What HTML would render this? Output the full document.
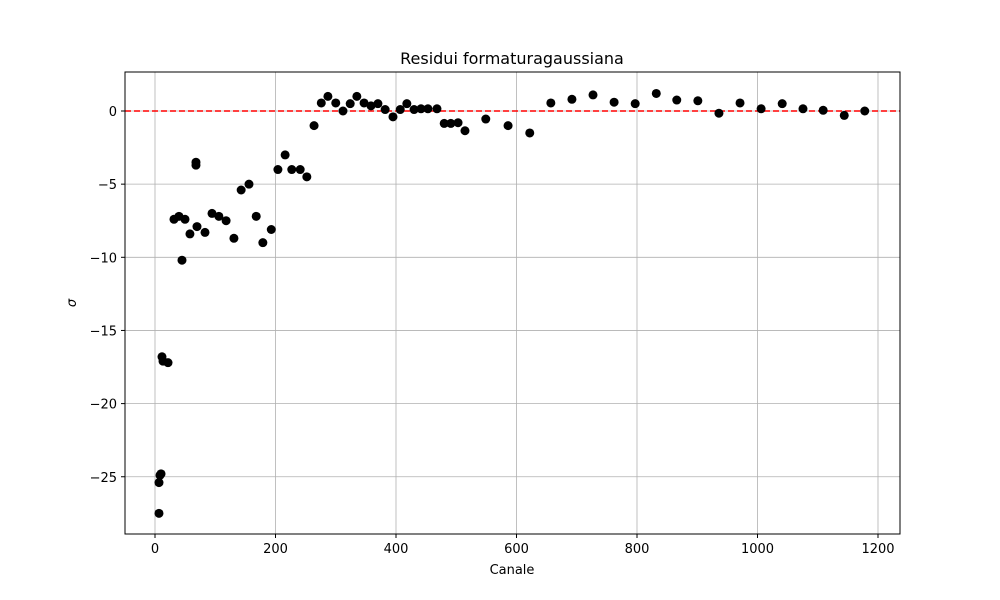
<!DOCTYPE html>
<html><head><meta charset="utf-8"><style>
body{margin:0;background:#fff}
svg{display:block;font-family:"DejaVu Sans","Liberation Sans",sans-serif}
</style></head><body>
<svg id="chart" width="1000" height="600">
<rect width="1000" height="600" fill="#fff"/>
<g id="grid"></g>
<g id="refline"></g>
<g id="points"></g>
<rect x="125" y="72" width="775" height="462" fill="none" stroke="#000" stroke-width="1"/>
<g id="xticks"></g>
<g id="yticks"></g>
<text x="512" y="64" text-anchor="middle" font-size="16">Residui formaturagaussiana</text>
<text x="512" y="574" text-anchor="middle" font-size="13">Canale</text>
<text x="0" y="0" transform="translate(76,303) rotate(-90)" text-anchor="middle" font-size="13" font-style="italic">σ</text>
</svg>
<script>
const channels=[6.6,6.6,8.3,10,11.6,13.3,21.6,31.5,39.8,44.8,49.8,58,68,68,69.7,83,94.6,106,118,131,143,156,168,179,193,204,216,227,241,252,264,276,287,300,312,324,335,347,358.5,370,382,395,407,418,430,441.5,453,468,480,491,503,514.5,549,586,622,657,692,727,762,797,832,866,901,936,971,1006,1041,1075.5,1109,1144,1178];
const sigma=[-27.5,-25.4,-24.9,-24.8,-16.8,-17.1,-17.2,-7.4,-7.2,-10.2,-7.4,-8.4,-3.7,-3.5,-7.9,-8.3,-7.0,-7.2,-7.5,-8.7,-5.4,-5.0,-7.2,-9.0,-8.1,-4.0,-3.0,-4.0,-4.0,-4.5,-1.0,0.55,1.0,0.55,0.0,0.5,1.0,0.55,0.35,0.5,0.1,-0.4,0.1,0.5,0.1,0.15,0.15,0.15,-0.85,-0.85,-0.8,-1.35,-0.55,-1.0,-1.5,0.55,0.8,1.1,0.6,0.5,1.2,0.75,0.7,-0.15,0.55,0.15,0.5,0.15,0.05,-0.3,0.0];
const xTicks=[0,200,400,600,800,1000,1200];
const yTicks=[0,-5,-10,-15,-20,-25];
const NS='http://www.w3.org/2000/svg';
const X=v=>155+v*0.6025;
const Y=v=>111-v*14.63;
function mk(tag,attrs,parent,txt){const e=document.createElementNS(NS,tag);for(const k in attrs)e.setAttribute(k,attrs[k]);if(txt!==undefined)e.textContent=txt;document.getElementById(parent).appendChild(e);return e;}
xTicks.forEach(t=>{
  const g=mk('line',{x1:X(t),x2:X(t),y1:72,y2:534,stroke:'#b0b0b0','stroke-width':0.8},'grid');
  
  
  mk('line',{x1:X(t),x2:X(t),y1:534,y2:538,stroke:'#000'},'xticks');
  const l=mk('text',{x:X(t),y:553,'text-anchor':'middle','font-size':13},'xticks',String(t));
  
  
});
yTicks.forEach(t=>{
  const g=mk('line',{x1:125,x2:900,y1:Y(t),y2:Y(t),stroke:'#b0b0b0','stroke-width':0.8},'grid');
  
  
  mk('line',{x1:121,x2:125,y1:Y(t),y2:Y(t),stroke:'#000'},'yticks');
  const l=mk('text',{x:117,y:Y(t)+5,'text-anchor':'end','font-size':13},'yticks',t<0?'\u2212'+(-t):String(t));
  
  
});
const ref=mk('line',{x1:125,x2:900,y1:Y(0),y2:Y(0),stroke:'#ff0000','stroke-width':1.6,'stroke-dasharray':'6,3'},'refline');


channels.forEach((c,i)=>{
  const p=mk('circle',{cx:X(c),cy:Y(sigma[i]),r:4.5,fill:'#000'},'points');
  
  
});
</script>
</body></html>
